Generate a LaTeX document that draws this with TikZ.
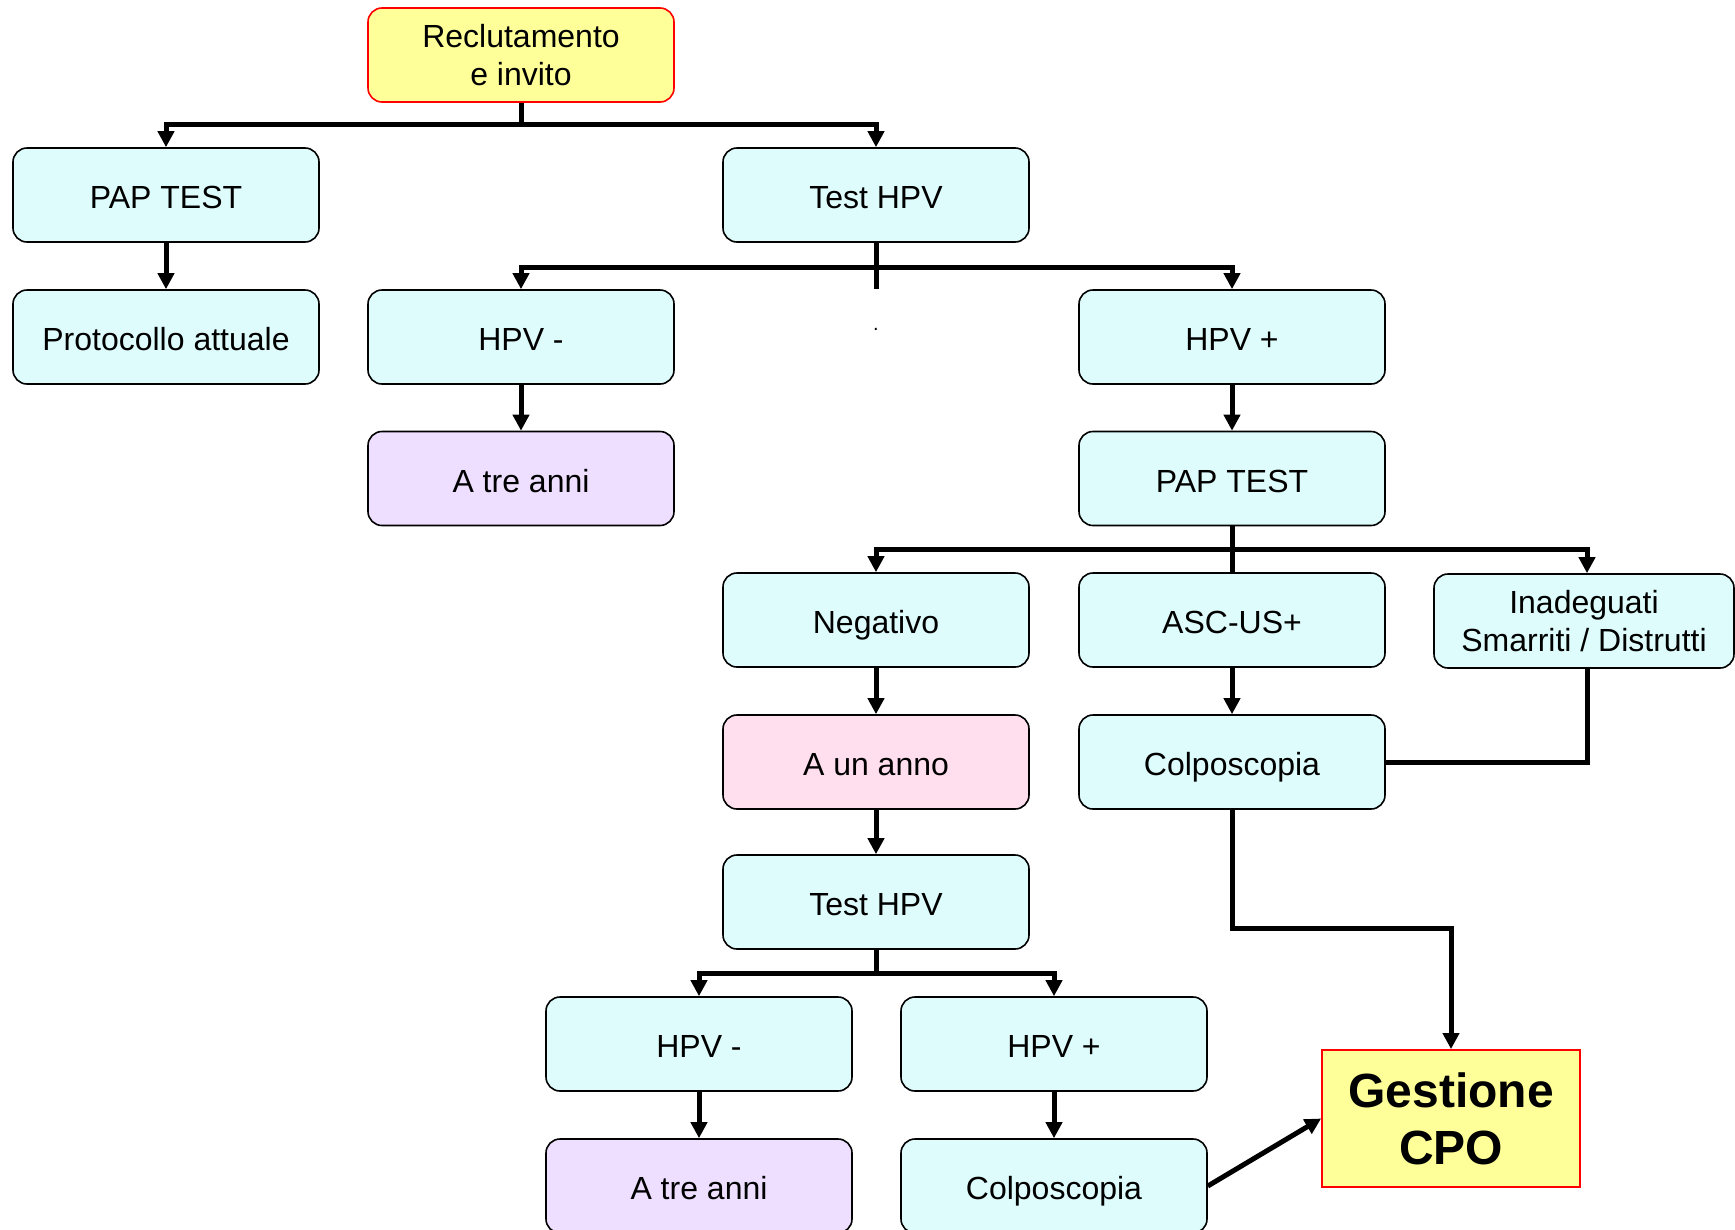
\documentclass[tikz,border=0pt]{standalone}
\usepackage{fontspec}
\setmainfont{Liberation Sans}
\usetikzlibrary{arrows.meta}
\definecolor{cyanfill}{RGB}{222,252,252}
\definecolor{lavfill}{RGB}{238,222,255}
\definecolor{pinkfill}{RGB}{255,222,238}
\definecolor{yelfill}{RGB}{255,255,153}
\tikzset{
  box/.style={draw=black, line width=1.6pt, rounded corners=14pt, fill=cyanfill,
    minimum width=306pt, minimum height=94pt, inner sep=0pt, align=center,
    font=\fontsize{32}{38}\selectfont},
  one/.style={text height=30pt, text depth=3pt},
  lav/.style={box, one, fill=lavfill},
  pink/.style={box, one, fill=pinkfill},
  yel/.style={box, draw=red, fill=yelfill},
  cpo/.style={draw=red, line width=1.8pt, fill=yelfill, minimum width=258pt,
    minimum height=137pt, inner sep=0pt, align=center,
    font=\bfseries\fontsize{48}{57}\selectfont},
  conn/.style={line width=5pt, line join=miter},
  arr/.style={conn, -{Triangle[length=16pt,width=16pt]}}
}
\begin{document}
\begin{tikzpicture}[x=1pt,y=-1pt]
\useasboundingbox (0,0) rectangle (1735,1229);
% nodes
\node[yel] (rec) at (521,55) {Reclutamento\\e invito};
\node[box,one] (pap1) at (166,195) {PAP TEST};
\node[box,one] (hpv1) at (876,195) {Test HPV};
\node[box,one] (prot) at (166,337) {Protocollo attuale};
\node[box,one] (hpvneg1) at (521,337) {HPV -};
\node[box,one] (hpvpos1) at (1232,337) {HPV +};
\node[anchor=base, font=\fontsize{20}{24}\selectfont, inner sep=0pt] (dot) at (876,330) {.};
\node[lav] (tre1) at (521,478.5) {A tre anni};
\node[box,one] (pap2) at (1232,478.5) {PAP TEST};
\node[box,one] (neg) at (876,620) {Negativo};
\node[box,one] (asc) at (1232,620) {ASC-US+};
\node[box, minimum width=300pt] (inad) at (1584,621) {Inadeguati\\Smarriti / Distrutti};
\node[pink] (anno) at (876,762) {A un anno};
\node[box,one] (colpo1) at (1232,762) {Colposcopia};
\node[box,one] (hpv2) at (876,902) {Test HPV};
\node[box,one] (hpvneg2) at (699,1044) {HPV -};
\node[box,one] (hpvpos2) at (1054,1044) {HPV +};
\node[lav] (tre2) at (699,1186) {A tre anni};
\node[box,one] (colpo2) at (1054,1186) {Colposcopia};
\node[cpo] (cpo) at (1451,1118.5) {Gestione\\CPO};
% bus coordinates
\coordinate (b1) at (521,124);
\coordinate (b2) at (876,267);
\coordinate (b2end) at (876,289);
\coordinate (b3) at (1232,549);
\coordinate (b4) at (876,973);
\coordinate (e1) at (1587,762);
\coordinate (e2) at (1232,928);
% connectors
\draw[conn] (rec.south) -- (b1);
\draw[arr] (b1) -| (pap1.north);
\draw[arr] (b1) -| (hpv1.north);
\draw[arr] (pap1.south) -- (prot.north);
\draw[conn] (hpv1.south) -- (b2end);
\draw[arr] (b2) -| (hpvneg1.north);
\draw[arr] (b2) -| (hpvpos1.north);
\draw[arr] (hpvneg1.south) -- (tre1.north);
\draw[arr] (hpvpos1.south) -- (pap2.north);
\draw[conn] (pap2.south) -- (asc.north);
\draw[arr] (b3) -| (neg.north);
\draw[arr] (b3) -| (inad.north -| e1);
\draw[arr] (neg.south) -- (anno.north);
\draw[arr] (asc.south) -- (colpo1.north);
\draw[conn] (inad.south -| e1) -- (e1) -- (colpo1.east);
\draw[arr] (colpo1.south) -- (e2) -| (cpo.north);
\draw[arr] (anno.south) -- (hpv2.north);
\draw[conn] (hpv2.south) -- (b4);
\draw[arr] (b4) -| (hpvneg2.north);
\draw[arr] (b4) -| (hpvpos2.north);
\draw[arr] (hpvneg2.south) -- (tre2.north);
\draw[arr] (hpvpos2.south) -- (colpo2.north);
\draw[arr] (colpo2.east) -- (cpo.west);
\end{tikzpicture}
\end{document}
